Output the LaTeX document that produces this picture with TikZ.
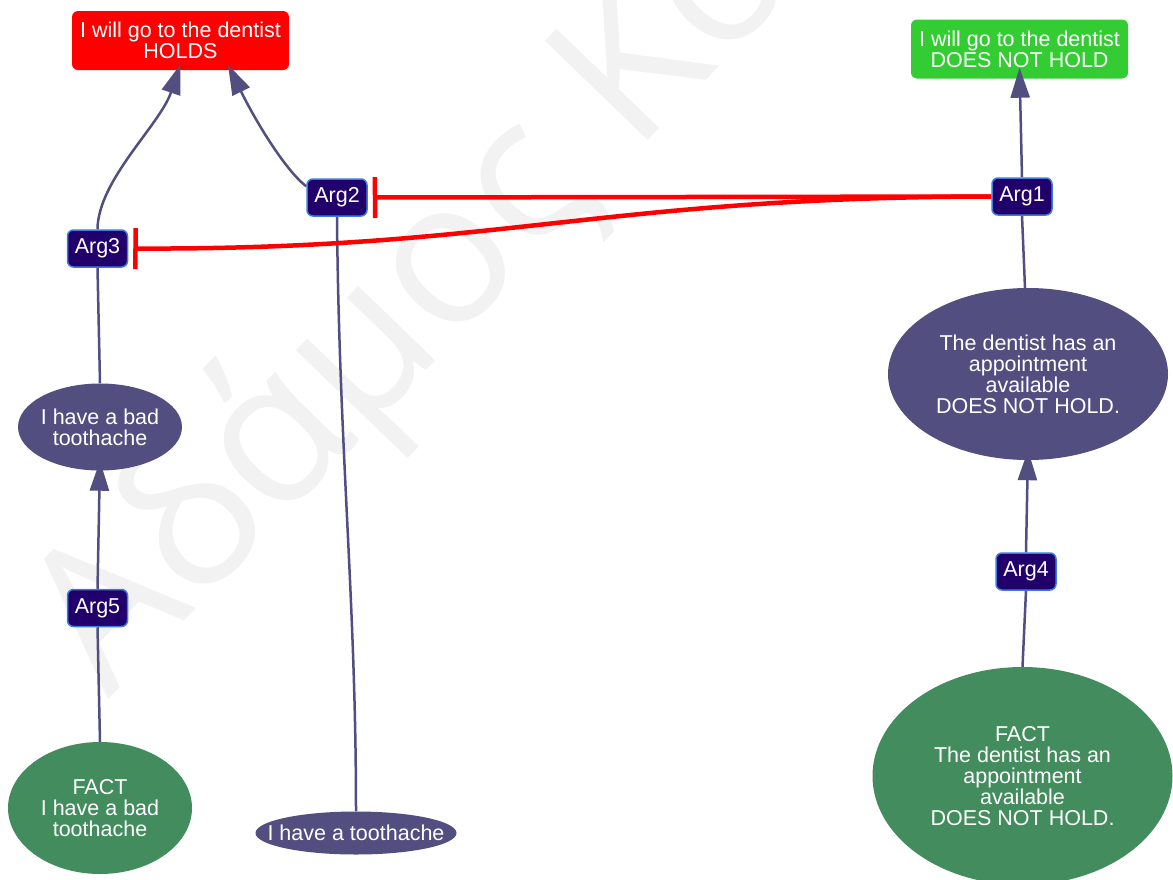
\documentclass[tikz,border=0pt]{standalone}
\usepackage{fontspec}
\setmainfont{Liberation Sans}
\newfontfamily\wmfont{Open Sans}
\usetikzlibrary{arrows.meta,shapes.geometric}
\definecolor{holdred}{HTML}{FF0000}
\definecolor{dnhgreen}{HTML}{33CC33}
\definecolor{argfill}{HTML}{22006B}
\definecolor{argline}{HTML}{3D7BE0}
\definecolor{ellpurple}{HTML}{524F80}
\definecolor{factgreen}{HTML}{438C5E}
\definecolor{wmgray}{HTML}{F2F2F2}
\pgfdeclarelayer{wmlayer}
\pgfdeclarelayer{boxlayer}
\pgfdeclarelayer{edgelayer}
\pgfsetlayers{wmlayer,boxlayer,edgelayer,main}
\begin{document}
\begin{tikzpicture}[x=1pt,y=-1pt,
  txt/.style={text=white,font=\fontsize{21.5}{21}\selectfont,align=center,inner sep=0pt},
  concl/.style={txt,rounded corners=6pt,minimum width=217pt,minimum height=59pt},
  argbox/.style={txt,fill=argfill,draw=argline,line width=1.5pt,rounded corners=6pt,minimum width=60pt,minimum height=37pt},
  claim/.style={ellipse,fill=ellpurple,inner sep=0pt},
  fact/.style={ellipse,fill=factgreen,inner sep=0pt},
  supp/.style={draw=ellpurple,line width=2.5pt},
  supparrow/.style={supp,-{Triangle[length=30pt,width=19pt]}},
  attack/.style={draw=holdred,line width=4.5pt,-{Bar[width=41pt]}},
  wmtext/.style={text=wmgray,font=\wmfont\fontsize{200}{200}\selectfont,inner sep=0pt,anchor=base west,rotate=46}
]
\useasboundingbox (0,0) rectangle (1173,879);
\begin{pgfonlayer}{wmlayer}
\fill[white] (0,0) rectangle (1173,879);
\node[wmtext] (wm) at (108,700) {Αδάμος Κο};
\end{pgfonlayer}

\begin{pgfonlayer}{boxlayer}
\node[concl,fill=holdred] (hold) at (180.5,40.5) {I will go to the dentist\\HOLDS};
\node[concl,fill=dnhgreen] (dnh) at (1019.5,49) {I will go to the dentist\\DOES NOT HOLD};
\end{pgfonlayer}

% argument nodes
\node[argbox] (arg1) at (1022,196.5) {Arg1};
\node[argbox] (arg2) at (337,197.5) {Arg2};
\node[argbox] (arg3) at (97.5,248.5) {Arg3};
\node[argbox] (arg4) at (1026,571.5) {Arg4};
\node[argbox] (arg5) at (97.5,608) {Arg5};

% statement ellipses
\node[claim,minimum width=280pt,minimum height=172pt] (den) at (1028,374) {};
\node[txt] (dentxt) at (den.center) {The dentist has an\\appointment\\available\\DOES NOT HOLD.};
\node[fact,minimum width=300pt,minimum height=218pt] (fden) at (1022.5,776) {};
\node[txt] (fdentxt) at (fden.center) {FACT\\The dentist has an\\appointment\\available\\DOES NOT HOLD.};
\node[claim,minimum width=164pt,minimum height=87pt] (bad) at (100,427) {};
\node[txt] (badtxt) at (bad.center) {I have a bad\\toothache};
\node[fact,minimum width=184pt,minimum height=132pt] (fbad) at (100,808) {};
\node[txt] (fbadtxt) at (fbad.center) {FACT\\I have a bad\\toothache};
\node[claim,minimum width=201pt,minimum height=43pt] (tooth) at (356,833) {};
\node[txt] (toothtxt) at (tooth.center) {I have a toothache};

\begin{pgfonlayer}{edgelayer}
\draw[supparrow] (arg3.north) .. controls (98,180) and (160,125) .. ([yshift=6pt]hold.south);
\draw[supparrow] (arg2.160) .. controls (285,170) and (255,120) .. ([xshift=47.5pt,yshift=5.5pt]hold.south);
\draw[supparrow] (arg1.north) -- ([yshift=11pt]dnh.south);
\draw[supp] ([xshift=-3pt]den.north) -- (arg1.south);
\draw[supparrow] (arg4.north) -- ([yshift=10pt]den.south);
\draw[supp] (fden.north) -- (arg4.south);
\draw[supp] (bad.north) -- (arg3.south);
\draw[supparrow] (arg5.north) -- ([yshift=10pt]bad.south);
\draw[supp] (fbad.north) -- (arg5.south);
\draw[supp] (tooth.north) .. controls (356,600) and (339,450) .. (arg2.south);
\draw[attack] (arg1.west) -- ([xshift=5pt]arg2.east);
\draw[attack] (arg1.west) .. controls (600,197) and (500,250) .. ([xshift=5pt]arg3.east);
\end{pgfonlayer}
\end{tikzpicture}
\end{document}
